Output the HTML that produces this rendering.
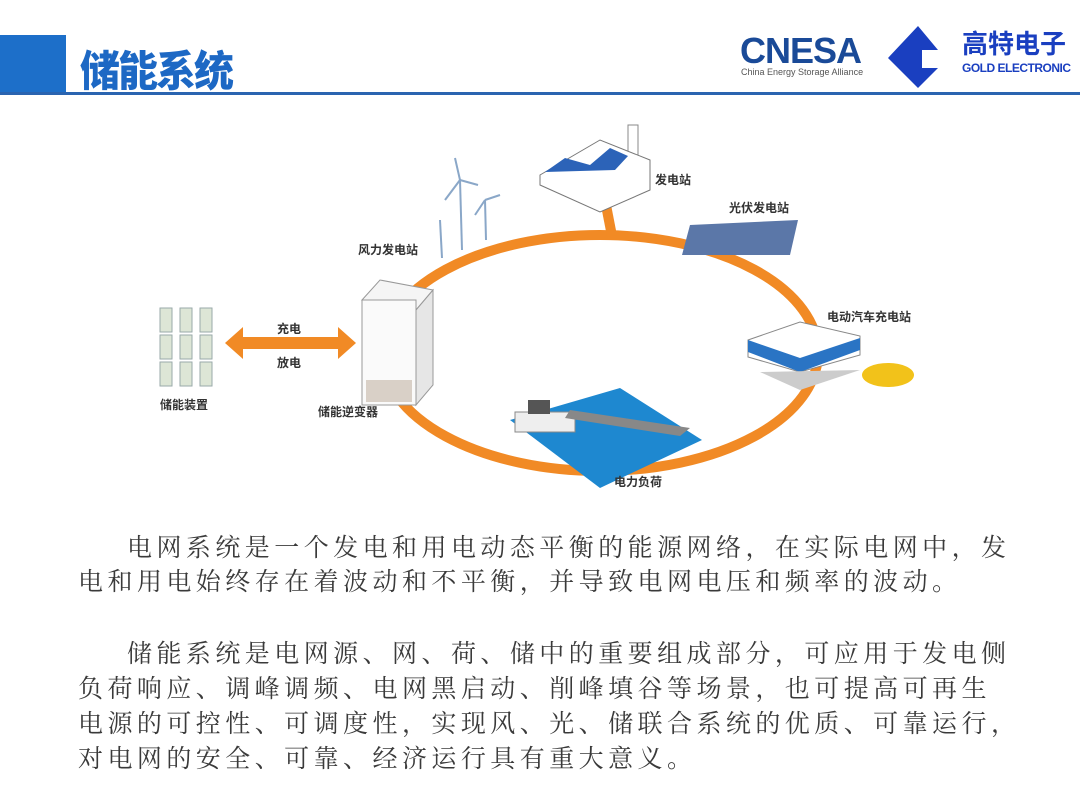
<!DOCTYPE html>
<html><head><meta charset="utf-8"><style>
body{margin:0;width:1080px;height:810px;background:#fff;position:relative;overflow:hidden;font-family:"Liberation Sans","Noto Sans CJK SC",sans-serif}
.t{position:absolute;left:0;font-family:"Liberation Serif","Noto Serif CJK SC",serif;font-size:25px;color:#3a3a3a;letter-spacing:4.45px;white-space:nowrap;line-height:34px}
.lbl{position:absolute;font-size:12px;font-weight:bold;color:#333;white-space:nowrap}
</style></head><body>
<div style="position:absolute;left:0;top:35px;width:66px;height:58px;background:#1d6fc9"></div>
<div style="position:absolute;left:0;top:92px;width:1080px;height:3px;background:#2a64b0"></div>
<div style="position:absolute;left:80px;top:38px;font-size:42px;font-weight:900;color:#1d68c4;letter-spacing:-2px;transform:scaleX(0.95);transform-origin:left">储能系统</div>
<div style="position:absolute;left:740px;top:30px;font-size:36px;font-weight:bold;color:#1a4a98;letter-spacing:-1px">CNESA</div>
<div style="position:absolute;left:741px;top:67px;font-size:9px;color:#555">China Energy Storage Alliance</div>
<svg style="position:absolute;left:888px;top:26px" width="70" height="64"><polygon points="30,0 0,32 30,62 50,42 34,42 34,24 50,24" fill="#1a3fc0"/></svg>
<div style="position:absolute;left:962px;top:30px;font-size:26px;font-weight:bold;color:#1a3fc0;line-height:28px">高特电子</div>
<div style="position:absolute;left:962px;top:61px;font-size:12px;font-weight:bold;color:#1a3fc0;letter-spacing:-0.5px">GOLD ELECTRONIC</div>

<svg style="position:absolute;left:0;top:0" width="1080" height="520">
<ellipse cx="600" cy="353" rx="218" ry="118" fill="none" stroke="#f18a25" stroke-width="10"/>
<line x1="605" y1="200" x2="612" y2="236" stroke="#f18a25" stroke-width="10"/>
<rect x="628" y="125" width="10" height="60" fill="#fff" stroke="#888"/>
<polygon points="540,175 600,140 650,160 650,190 600,212 540,185" fill="#fff" stroke="#777"/>
<polygon points="545,172 565,158 590,165 610,148 628,156 615,170" fill="#2c63b8"/>
<polygon points="690,225 798,220 790,255 682,255" fill="#5b77a8"/>
<g stroke="#8aa7c8" stroke-width="2" fill="none">
<line x1="460" y1="180" x2="462" y2="250"/><line x1="460" y1="180" x2="445" y2="200"/><line x1="460" y1="180" x2="478" y2="185"/><line x1="460" y1="180" x2="455" y2="158"/>
<line x1="485" y1="200" x2="486" y2="240"/><line x1="485" y1="200" x2="500" y2="195"/><line x1="485" y1="200" x2="475" y2="215"/>
<line x1="440" y1="220" x2="442" y2="258"/>
</g>
<polygon points="362,300 380,280 433,290 416,310" fill="#f5f5f5" stroke="#999"/>
<rect x="362" y="300" width="54" height="105" fill="#fafafa" stroke="#999"/>
<polygon points="416,310 433,290 433,385 416,405" fill="#e6e6e6" stroke="#999"/>
<rect x="366" y="380" width="46" height="22" fill="#d9d0c7"/>
<polygon points="225,343 243,327 243,337 338,337 338,327 356,343 338,359 338,349 243,349 243,359" fill="#f18a25"/>
<g fill="#dde6d6" stroke="#9aa">
<rect x="160" y="308" width="12" height="24"/><rect x="180" y="308" width="12" height="24"/><rect x="200" y="308" width="12" height="24"/>
<rect x="160" y="335" width="12" height="24"/><rect x="180" y="335" width="12" height="24"/><rect x="200" y="335" width="12" height="24"/>
<rect x="160" y="362" width="12" height="24"/><rect x="180" y="362" width="12" height="24"/><rect x="200" y="362" width="12" height="24"/>
</g>
<polygon points="748,340 800,322 860,336 860,355 800,372 748,357" fill="#fff" stroke="#888"/>
<polygon points="748,340 800,358 860,338 860,350 800,372 748,352" fill="#2a74c4"/>
<polygon points="760,372 800,390 860,370" fill="#ccc"/>
<ellipse cx="888" cy="375" rx="26" ry="12" fill="#f2c21a"/>
<polygon points="510,420 620,388 702,440 600,488" fill="#1e88d0"/>
<rect x="515" y="412" width="60" height="20" fill="#eee" stroke="#888"/>
<rect x="528" y="400" width="22" height="14" fill="#555"/>
<polygon points="570,410 690,428 680,436 565,418" fill="#888"/>
</svg>
<div class="lbl" style="left:655px;top:171px">发电站</div>
<div class="lbl" style="left:729px;top:199px">光伏发电站</div>
<div class="lbl" style="left:358px;top:241px">风力发电站</div>
<div class="lbl" style="left:827px;top:308px">电动汽车充电站</div>
<div class="lbl" style="left:277px;top:320px">充电</div>
<div class="lbl" style="left:277px;top:354px">放电</div>
<div class="lbl" style="left:160px;top:396px">储能装置</div>
<div class="lbl" style="left:318px;top:403px">储能逆变器</div>
<div class="lbl" style="left:614px;top:473px">电力负荷</div>

<div class="t" style="top:532px;left:127px">电网系统是一个发电和用电动态平衡的能源网络，在实际电网中，发</div>
<div class="t" style="top:566px;left:78px">电和用电始终存在着波动和不平衡，并导致电网电压和频率的波动。</div>
<div class="t" style="top:638px;left:127px">储能系统是电网源、网、荷、储中的重要组成部分，可应用于发电侧</div>
<div class="t" style="top:673px;left:78px">负荷响应、调峰调频、电网黑启动、削峰填谷等场景，也可提高可再生</div>
<div class="t" style="top:708px;left:78px">电源的可控性、可调度性，实现风、光、储联合系统的优质、可靠运行，</div>
<div class="t" style="top:743px;left:78px">对电网的安全、可靠、经济运行具有重大意义。</div>
</body></html>
